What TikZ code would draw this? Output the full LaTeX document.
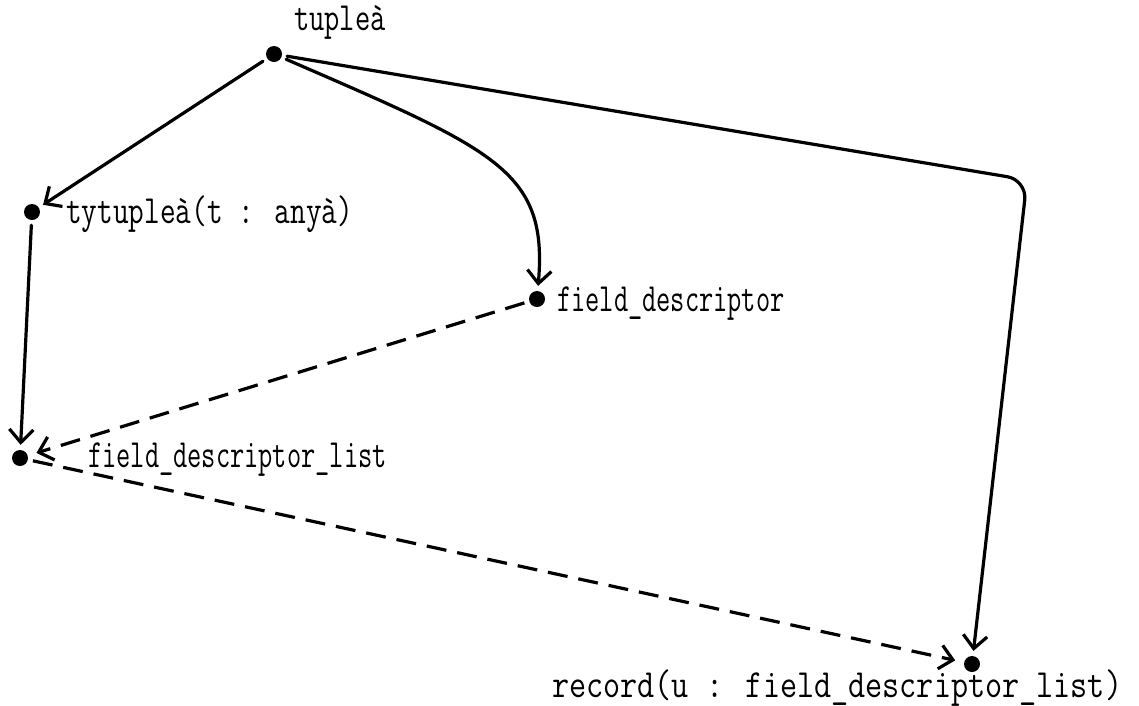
\documentclass[tikz,border=0pt]{standalone}
\usepackage{graphicx}
\usetikzlibrary{arrows.meta}

% typewriter label: narrow tall letters, horizontal squeeze given as #1
\newcommand{\twlabel}[2]{{\fontsize{40}{44}\ttfamily\scalebox{#1}[1]{#2}}}

\begin{document}
\begin{tikzpicture}[x=1pt,y=-1pt,
  dot/.style={circle,fill=black,inner sep=0pt,minimum size=16pt},
  lbl/.style={anchor=base west,inner sep=0pt},
  edge/.style={line width=3.2pt,line cap=round,
    -{Straight Barb[length=13pt,width=24pt,line width=3.2pt]},
    shorten >=5pt,shorten <=5pt},
  dashedge/.style={edge,line cap=butt,dash pattern=on 20pt off 11pt,shorten >=9pt}]
\useasboundingbox (0,0) rectangle (1139,705);

% vertices
\node[dot] (tuple)   at (274,54)  {};
\node[dot] (tytuple) at (32,212)  {};
\node[dot] (fd)      at (537,299) {};
\node[dot] (fdl)     at (20,458)  {};
\node[dot] (record)  at (972,664) {};

% vertex names
\node[lbl] (tupleT)   at (294,30)  {\twlabel{0.74}{tupleà}};
\node[lbl] (tytupleT) at (66,223)  {\twlabel{0.76}{tytupleà(t : anyà)}};
\node[lbl] (fdT)      at (557,311) {\twlabel{0.69}{field\_descriptor}};
\node[lbl] (fdlT)     at (88,467)  {\twlabel{0.69}{field\_descriptor\_list}};
\node[lbl] (recordT)  at (552,697) {\twlabel{0.83}{record(u : field\_descriptor\_list)}};

% corner of the long edge on the right
\coordinate (turn) at (1027,180);

% solid edges
\draw[edge] (tuple) -- (tytuple);
\draw[edge] (tuple) .. controls (495,150) and (548,170) .. (fd);
\draw[edge,rounded corners=20pt] (tuple) -- (turn) -- (record);
\draw[edge] (tytuple) -- (fdl);

% dashed edges
\draw[dashedge] (fd) -- (fdl);
\draw[dashedge] (fdl) -- (record);
\end{tikzpicture}
\end{document}
